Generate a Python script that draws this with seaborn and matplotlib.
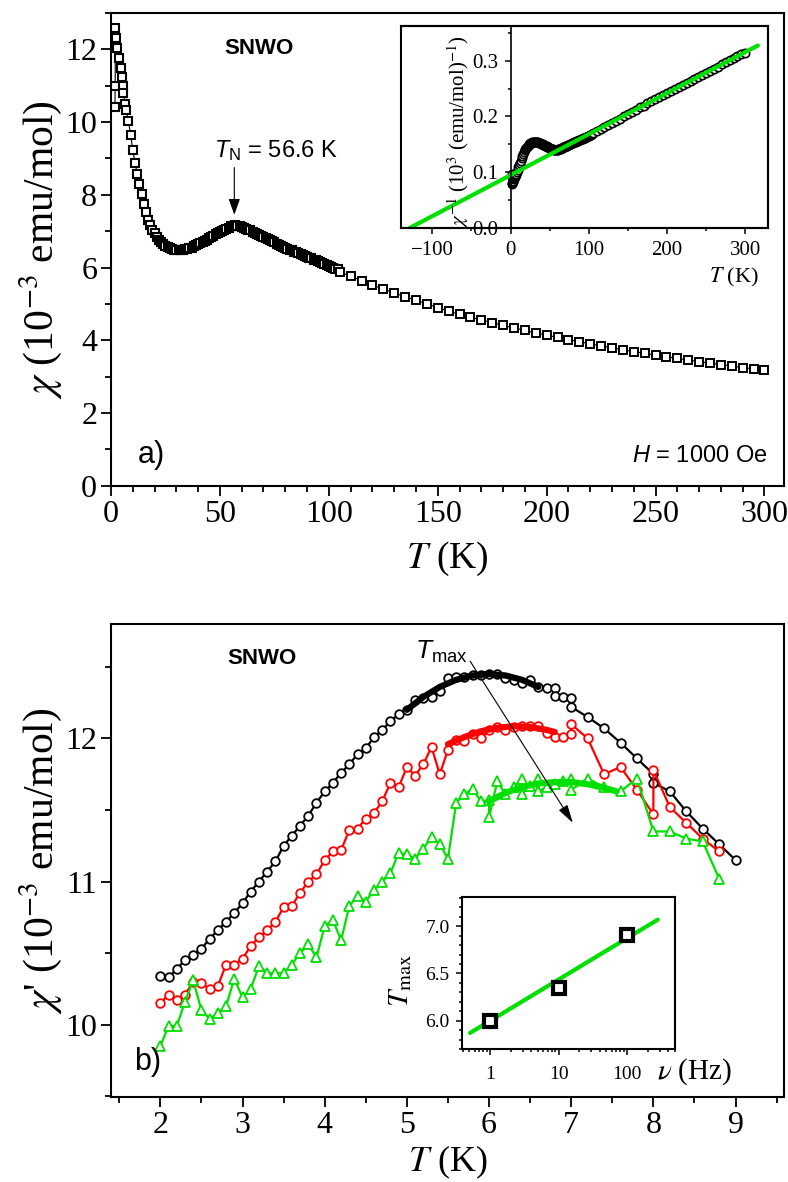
import matplotlib
matplotlib.use("Agg")
import matplotlib.pyplot as plt
import seaborn as sns
from matplotlib.ticker import MultipleLocator, FixedLocator, FixedFormatter, NullFormatter, LogLocator, FormatStrFormatter

# ---------------- data: panel a (DC susceptibility, H = 1000 Oe) ----------------
T_dense = [1.8, 1.9, 2.0, 2.3, 2.9, 3.7, 4.4, 4.9, 5.3, 5.7, 6.5, 7, 8, 9, 10, 11, 12, 13, 14, 15,
           16, 17, 18, 19, 20, 21, 22, 23, 24, 25, 26, 27, 28, 29, 30, 31, 32, 33, 34, 35,
           36, 37, 38, 39, 40, 41, 42, 43, 44, 45, 46, 47, 48, 49, 50, 51, 52, 53, 54, 55,
           56, 57, 58, 59, 60, 61, 62, 63, 64, 65, 66, 67, 68, 69, 70, 71, 72, 73, 74, 75,
           76, 77, 78, 79, 80, 81, 82, 83, 84, 85, 86, 87, 88, 89, 90, 91, 92, 93, 94, 95,
           96, 97, 98, 99, 100, 101, 102, 103, 104]
chi_dense = [10.42, 11.0, 12.6, 12.3, 12.04, 11.76, 11.5, 11.24, 11.0, 10.8, 10.5, 10.33, 10.02, 9.65, 9.22, 8.88, 8.58, 8.3, 8.02, 7.75,
             7.52, 7.32, 7.16, 7.04, 6.94, 6.85, 6.77, 6.70, 6.65, 6.60, 6.56, 6.53, 6.50, 6.48, 6.47, 6.47, 6.48, 6.49, 6.50, 6.51,
             6.53, 6.55, 6.58, 6.61, 6.64, 6.67, 6.70, 6.73, 6.77, 6.80, 6.84, 6.87, 6.91, 6.95, 6.98, 7.01, 7.04, 7.07, 7.10, 7.13,
             7.15, 7.16, 7.15, 7.13, 7.11, 7.09, 7.07, 7.04, 7.02, 6.99, 6.96, 6.93, 6.90, 6.87, 6.84, 6.81, 6.78, 6.75, 6.72, 6.69,
             6.66, 6.63, 6.60, 6.57, 6.54, 6.52, 6.49, 6.47, 6.44, 6.42, 6.39, 6.37, 6.34, 6.32, 6.29, 6.27, 6.25, 6.22, 6.20, 6.17,
             6.15, 6.12, 6.10, 6.07, 6.05, 6.02, 6.00, 5.97, 5.95]
T_sparse = [105, 110, 115, 120, 125, 130, 135, 140, 145, 150, 155, 160, 165, 170, 175, 180, 185, 190, 195, 200,
            205, 210, 215, 220, 225, 230, 235, 240, 245, 250, 255, 260, 265, 270, 275, 280, 285, 290, 295, 300]
chi_sparse = [5.88, 5.76, 5.64, 5.52, 5.41, 5.30, 5.20, 5.10, 5.00, 4.90, 4.80, 4.71, 4.63, 4.56, 4.48, 4.41, 4.34, 4.27, 4.20, 4.14,
              4.08, 4.02, 3.96, 3.90, 3.85, 3.79, 3.74, 3.69, 3.64, 3.59, 3.55, 3.50, 3.46, 3.41, 3.37, 3.33, 3.29, 3.25, 3.21, 3.18]
# Curie-Weiss fit line in the inset (T in K, 1/chi in 10^3 (emu/mol)^-1)
cw_T = [-129, 316]
cw_inv = [0.0, 0.327]

# ---------------- data: panel b (AC susceptibility) ----------------
T_black = [2.0, 2.1, 2.2, 2.3, 2.4, 2.5, 2.6, 2.7, 2.8, 2.9, 3.0, 3.1, 3.2, 3.3, 3.4, 3.5, 3.6, 3.7, 3.8, 3.9,
           4.0, 4.1, 4.2, 4.3, 4.4, 4.5, 4.6, 4.7, 4.8, 4.9, 5.0, 5.1, 5.2, 5.3, 5.4, 5.5, 5.6, 5.7, 5.8, 5.9,
           6.0, 6.1, 6.2, 6.3, 6.4, 6.5, 6.6, 6.7, 6.8, 6.8, 6.9, 7.0, 7.0, 7.2, 7.4, 7.6, 7.8, 8.0, 8.0, 8.2,
           8.4, 8.6, 8.8, 9.0]
chi_black = [10.34, 10.33, 10.39, 10.45, 10.49, 10.53, 10.60, 10.66, 10.72, 10.78, 10.85, 10.93, 11.00, 11.07, 11.14, 11.25, 11.32, 11.39, 11.46, 11.55,
             11.63, 11.69, 11.76, 11.82, 11.89, 11.93, 12.01, 12.06, 12.12, 12.17, 12.20, 12.27, 12.28, 12.29, 12.33, 12.42, 12.43, 12.43, 12.44, 12.44,
             12.45, 12.45, 12.42, 12.41, 12.39, 12.41, 12.36, 12.35, 12.35, 12.30, 12.29, 12.28, 12.22, 12.15, 12.07, 11.97, 11.86, 11.75, 11.69, 11.63,
             11.49, 11.37, 11.26, 11.15]
T_red = [2.0, 2.1, 2.2, 2.3, 2.4, 2.5, 2.6, 2.7, 2.8, 2.9, 3.0, 3.1, 3.2, 3.3, 3.4, 3.5, 3.6, 3.7, 3.8, 3.9,
         4.0, 4.1, 4.2, 4.3, 4.4, 4.5, 4.6, 4.7, 4.8, 4.9, 5.0, 5.1, 5.2, 5.3, 5.4, 5.5, 5.6, 5.7, 5.8, 5.9,
         6.0, 6.1, 6.2, 6.3, 6.4, 6.5, 6.6, 6.7, 6.8, 6.9, 7.0, 7.0, 7.2, 7.4, 7.6, 7.8, 8.0, 8.0, 8.2, 8.4,
         8.6, 8.8]
chi_red = [10.15, 10.21, 10.17, 10.21, 10.30, 10.29, 10.25, 10.27, 10.42, 10.42, 10.46, 10.55, 10.61, 10.66, 10.72, 10.82, 10.83, 10.92, 11.00, 11.05,
           11.15, 11.21, 11.22, 11.36, 11.37, 11.44, 11.48, 11.56, 11.69, 11.66, 11.80, 11.74, 11.82, 11.94, 11.75, 11.92, 11.99, 11.98, 12.03, 12.00,
           12.06, 12.08, 12.06, 12.08, 12.09, 12.09, 12.09, 12.04, 12.01, 12.01, 12.03, 12.10, 12.00, 11.75, 11.80, 11.64, 11.47, 11.78, 11.52, 11.41,
           11.30, 11.21]
T_green = [2.0, 2.1, 2.2, 2.3, 2.4, 2.5, 2.6, 2.7, 2.8, 2.9, 3.0, 3.1, 3.2, 3.3, 3.4, 3.5, 3.6, 3.7, 3.8, 3.9,
           4.0, 4.1, 4.2, 4.3, 4.4, 4.5, 4.6, 4.7, 4.8, 4.9, 5.0, 5.1, 5.2, 5.3, 5.4, 5.5, 5.6, 5.7, 5.8, 5.9,
           6.0, 6.0, 6.1, 6.2, 6.3, 6.4, 6.4, 6.5, 6.6, 6.6, 6.7, 6.8, 6.9, 7.0, 7.0, 7.2, 7.4, 7.6, 7.8, 8.0,
           8.2, 8.4, 8.6, 8.8]
chi_green = [9.85, 9.99, 9.99, 10.16, 10.31, 10.10, 10.04, 10.08, 10.13, 10.32, 10.19, 10.25, 10.41, 10.36, 10.36, 10.36, 10.42, 10.50, 10.56, 10.47,
             10.69, 10.73, 10.59, 10.83, 10.90, 10.86, 10.94, 11.00, 11.06, 11.20, 11.19, 11.16, 11.23, 11.31, 11.26, 11.16, 11.55, 11.61, 11.65, 11.56,
             11.57, 11.45, 11.70, 11.61, 11.66, 11.72, 11.61, 11.67, 11.72, 11.63, 11.66, 11.68, 11.70, 11.72, 11.64, 11.72, 11.66, 11.63, 11.72, 11.35,
             11.35, 11.30, 11.28, 11.02]
# peak fits (thick curves)
fitT_black = [5.0, 5.2, 5.4, 5.6, 5.8, 6.0, 6.2, 6.4, 6.6]
fit_black = [12.20, 12.29, 12.36, 12.41, 12.44, 12.45, 12.44, 12.41, 12.36]
fitT_red = [5.5, 5.7, 5.9, 6.1, 6.3, 6.5, 6.7, 6.8]
fit_red = [11.96, 12.01, 12.05, 12.075, 12.085, 12.08, 12.06, 12.045]
fitT_green = [6.0, 6.2, 6.4, 6.6, 6.8, 7.0, 7.2, 7.4, 7.55]
fit_green = [11.56, 11.62, 11.66, 11.685, 11.695, 11.695, 11.68, 11.655, 11.63]
# inset b: Tmax vs frequency
nu_Hz = [1, 10, 100]
Tmax_K = [6.0, 6.35, 6.91]
nu_fit = [0.51, 280]
Tmax_fit = [5.87, 7.07]

GREEN = "#00e000"
RED = "#ff0000"

# ---------------- style ----------------
sns.set_theme(style="ticks")
plt.rcParams.update({
    "font.family": ["Liberation Serif", "DejaVu Sans"],
    "mathtext.fontset": "custom",
    "mathtext.rm": "Liberation Sans",
    "mathtext.it": "Liberation Sans:italic",
    "mathtext.bf": "Liberation Sans:bold",
    "axes.linewidth": 1.5,
    "axes.edgecolor": "black",
    "axes.labelcolor": "black",
    "text.color": "black",
    "xtick.color": "black",
    "ytick.color": "black",
    "axes.facecolor": "white",
    "figure.facecolor": "white",
})

fig = plt.figure(figsize=(7.88, 11.82), dpi=100)
ax_a = fig.add_axes([0.1409, 0.5891, 0.8541, 0.3999])
ax_b = fig.add_axes([0.1409, 0.0719, 0.8541, 0.4002])
ax_ia = fig.add_axes([0.5089, 0.8071, 0.4657, 0.1709])
ax_ib = fig.add_axes([0.5863, 0.1125, 0.2703, 0.1286])

SANS = "Liberation Sans"

def main_ticks(ax):
    ax.tick_params(which="both", direction="out", top=False, right=False,
                   labelsize=23, width=1.3, pad=3)
    ax.tick_params(which="major", length=7)
    ax.tick_params(which="minor", length=4)
    for s in ax.spines.values():
        s.set_visible(True)
        s.set_linewidth(1.5)
        s.set_color("black")

# ---------------- panel a ----------------
sns.lineplot(x=T_dense, y=chi_dense, ax=ax_a, estimator=None, sort=False, color="black",
             linewidth=0.8, marker="s", markersize=6.0, markeredgecolor="black",
             markerfacecolor="white", markeredgewidth=1.5)
sns.lineplot(x=T_sparse, y=chi_sparse, ax=ax_a, estimator=None, sort=False, color="black",
             linewidth=0.8, marker="s", markersize=6.0, markeredgecolor="black",
             markerfacecolor="white", markeredgewidth=1.4)
ax_a.set_xlim(0, 309)
ax_a.set_ylim(0, 13)
ax_a.xaxis.set_major_locator(MultipleLocator(50))
ax_a.xaxis.set_minor_locator(MultipleLocator(10))
ax_a.yaxis.set_major_locator(MultipleLocator(2))
ax_a.yaxis.set_minor_locator(MultipleLocator(1))
main_ticks(ax_a)
ax_a.set_xlabel(r"$T$ (K)", fontsize=27, math_fontfamily="stix")
ax_a.set_ylabel(r"$\chi$ (10$^{-3}$ emu/mol)", fontsize=30, math_fontfamily="stix")
ax_a.xaxis.set_label_coords(0.5, -0.115)
ax_a.yaxis.set_label_coords(-0.07, 0.5)

ax_a.text(0.22, 0.925, "SNWO", transform=ax_a.transAxes, fontsize=16, fontweight="bold",
          family=SANS, ha="center", va="center")
ax_a.text(75.5, 9.22, r"$T_{\rm N}$ = 56.6 K", fontsize=17, family=SANS, ha="center", va="center")
ax_a.annotate("", xy=(56.6, 7.45), xytext=(56.6, 8.75),
              arrowprops=dict(arrowstyle="-|>,head_width=0.25,head_length=0.7", color="black",
                              lw=0.8, mutation_scale=14, shrinkA=0, shrinkB=0))
ax_a.text(0.06, 0.065, "a)", transform=ax_a.transAxes, fontsize=22, family=SANS,
          ha="center", va="center")
ax_a.text(0.975, 0.062, r"$H$ = 1000 Oe", transform=ax_a.transAxes, fontsize=17, family=SANS,
          ha="right", va="center")

# ---------------- inset a: inverse susceptibility ----------------
inv_T = T_dense + T_sparse
inv_chi = [1.0 / c for c in chi_dense + chi_sparse]
sns.lineplot(x=inv_T, y=inv_chi, ax=ax_ia, estimator=None, sort=False, color="black",
             linewidth=0, marker="o", markersize=6.0, markeredgecolor="black",
             markerfacecolor="white", markeredgewidth=1.2)
sns.lineplot(x=cw_T, y=cw_inv, ax=ax_ia, estimator=None, sort=False, color=GREEN, linewidth=3)
ax_ia.set_xlim(-140, 329)
ax_ia.set_ylim(0, 0.362)
ax_ia.spines["left"].set_position(("data", 0))
for k in ["top", "right", "bottom"]:
    ax_ia.spines[k].set_linewidth(1.5)
ax_ia.spines["left"].set_linewidth(1.2)
ax_ia.patch.set_edgecolor("black")
ax_ia.patch.set_linewidth(1.5)
ax_ia.xaxis.set_major_locator(MultipleLocator(100))
ax_ia.xaxis.set_minor_locator(MultipleLocator(50))
ax_ia.yaxis.set_major_locator(MultipleLocator(0.1))
ax_ia.yaxis.set_minor_locator(MultipleLocator(0.05))
ax_ia.yaxis.set_major_formatter(FormatStrFormatter("%.1f"))
ax_ia.tick_params(which="both", direction="out", top=False, right=False, labelsize=15,
                  width=1.1, pad=5)
ax_ia.tick_params(which="major", length=4)
ax_ia.tick_params(which="minor", length=2.5)
ax_ia.set_xlabel("")
ax_ia.set_ylabel("")
ax_ia.text(0.975, -0.245, r"$T$ (K)", transform=ax_ia.transAxes, fontsize=16,
           math_fontfamily="stix", ha="right", va="center")
ax_ia.text(-67, 0.173, r"$\chi^{-1}$ (10$^{3}$ (emu/mol)$^{-1}$)", fontsize=15,
           math_fontfamily="stix", rotation=90, ha="center", va="center")

# ---------------- panel b ----------------
for T, c, col, mk, ms in [(T_black, chi_black, "black", "o", 6.2),
                          (T_red, chi_red, RED, "o", 6.2),
                          (T_green, chi_green, GREEN, "^", 6.8)]:
    sns.lineplot(x=T, y=c, ax=ax_b, estimator=None, sort=False, color=col, linewidth=1.6,
                 marker=mk, markersize=ms, markeredgecolor=col, markerfacecolor="white",
                 markeredgewidth=1.3)
for T, c, col in [(fitT_black, fit_black, "black"), (fitT_red, fit_red, RED),
                  (fitT_green, fit_green, GREEN)]:
    sns.lineplot(x=T, y=c, ax=ax_b, estimator=None, sort=False, color=col, linewidth=4.5)
ax_b.set_xlim(1.4, 9.59)
ax_b.set_ylim(9.494, 12.8)
ax_b.xaxis.set_major_locator(MultipleLocator(1))
ax_b.xaxis.set_minor_locator(MultipleLocator(0.5))
ax_b.yaxis.set_major_locator(MultipleLocator(1))
ax_b.yaxis.set_minor_locator(MultipleLocator(0.5))
main_ticks(ax_b)
ax_b.set_xlabel(r"$T$ (K)", fontsize=26, math_fontfamily="stix")
ax_b.set_ylabel(r"$\chi$' (10$^{-3}$ emu/mol)", fontsize=30, math_fontfamily="stix")
ax_b.xaxis.set_label_coords(0.5, -0.098)
ax_b.yaxis.set_label_coords(-0.07, 0.5)
ax_b.text(0.224, 0.928, "SNWO", transform=ax_b.transAxes, fontsize=16, fontweight="bold",
          family=SANS, ha="center", va="center")
ax_b.text(0.452, 0.926, r"$T_{\rm max}$", transform=ax_b.transAxes, fontsize=19, family=SANS,
          ha="left", va="baseline")
ax_b.annotate("", xy=(7.02, 11.41), xytext=(5.77, 12.54),
              arrowprops=dict(arrowstyle="-|>,head_width=0.22,head_length=0.8", color="black",
                              lw=0.8, mutation_scale=14, shrinkA=0, shrinkB=0))
ax_b.text(0.055, 0.057, "b)", transform=ax_b.transAxes, fontsize=22, family=SANS,
          ha="center", va="baseline")

# ---------------- inset b: Tmax vs frequency ----------------
sns.lineplot(x=nu_fit, y=Tmax_fit, ax=ax_ib, estimator=None, sort=False, color=GREEN, linewidth=3)
sns.lineplot(x=nu_Hz, y=Tmax_K, ax=ax_ib, estimator=None, sort=False, color="black", linewidth=0,
             marker="s", markersize=8, markeredgecolor="black", markerfacecolor="white",
             markeredgewidth=3)
ax_ib.set_xscale("log")
ax_ib.set_xlim(0.39, 500)
ax_ib.set_ylim(5.70, 7.31)
ax_ib.xaxis.set_major_locator(FixedLocator([1, 10, 100]))
ax_ib.xaxis.set_major_formatter(FixedFormatter(["1", "10", "100"]))
ax_ib.xaxis.set_minor_locator(LogLocator(base=10, subs=range(2, 10), numticks=20))
ax_ib.xaxis.set_minor_formatter(NullFormatter())
ax_ib.yaxis.set_major_locator(MultipleLocator(0.5))
ax_ib.yaxis.set_minor_locator(MultipleLocator(0.1))
ax_ib.yaxis.set_major_formatter(FormatStrFormatter("%.1f"))
ax_ib.tick_params(which="both", direction="out", top=False, right=False, labelsize=14,
                  width=1.1)
ax_ib.tick_params(axis="x", which="major", length=4, pad=8)
ax_ib.tick_params(axis="y", which="major", length=4, pad=5)
ax_ib.tick_params(which="minor", length=2.5)
for s in ax_ib.spines.values():
    s.set_visible(True)
    s.set_linewidth(1.5)
ax_ib.set_xlabel("")
ax_ib.set_ylabel("")
ax_ib.text(-0.29, 0.45, r"$T_{\rm max}$", transform=ax_ib.transAxes, fontsize=21,
           math_fontfamily="stix", rotation=90, ha="center", va="center")
ax_ib.text(0.915, -0.15, r"$\nu$ (Hz)", transform=ax_ib.transAxes, fontsize=21,
           math_fontfamily="stix", ha="left", va="center")

fig.savefig("out.png", dpi=100)
